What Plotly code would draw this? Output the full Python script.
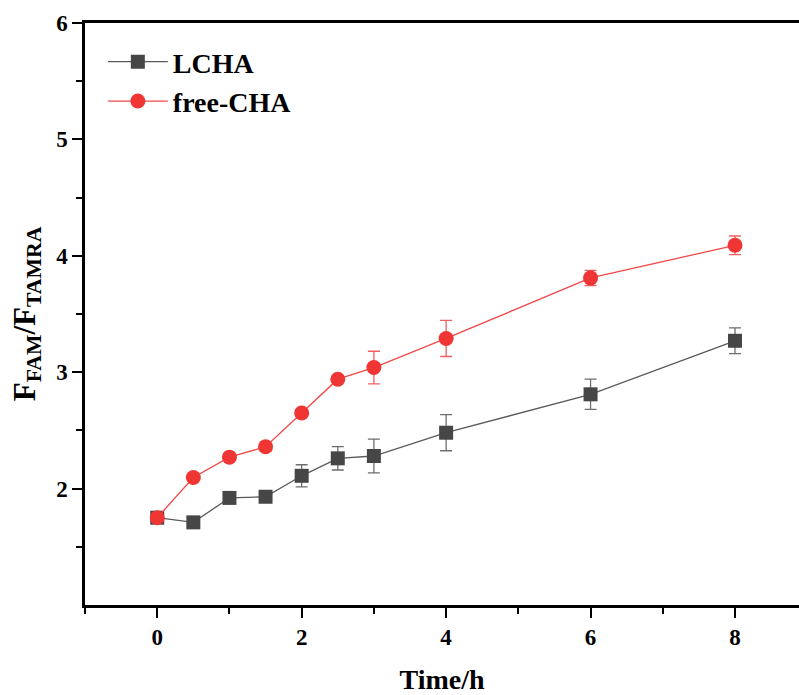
import plotly.graph_objects as go

time_h = [0, 0.5, 1, 1.5, 2, 2.5, 3, 4, 6, 8]
lcha = [1.75, 1.71, 1.92, 1.93, 2.11, 2.26, 2.28, 2.48, 2.81, 3.27]
lcha_err = [0.02, 0.02, 0.03, 0.03, 0.095, 0.10, 0.145, 0.155, 0.13, 0.11]
free_cha = [1.75, 2.095, 2.27, 2.36, 2.65, 2.94, 3.04, 3.29, 3.81, 4.09]
free_err = [0.02, 0.02, 0.03, 0.04, 0.03, 0.03, 0.14, 0.155, 0.065, 0.08]

font = "Liberation Serif, Times New Roman, serif"

fig = go.Figure()
fig.add_trace(go.Scatter(
    x=time_h, y=lcha, name="LCHA", mode="lines+markers",
    line=dict(color="#5a5a5a", width=1.3),
    marker=dict(symbol="square", size=14, color="#464646"),
    error_y=dict(type="data", array=lcha_err, color="#6e6e6e", thickness=1.3, width=6),
))
fig.add_trace(go.Scatter(
    x=time_h, y=free_cha, name="free-CHA", mode="lines+markers",
    line=dict(color="#f04848", width=1.3),
    marker=dict(symbol="circle", size=15, color="#f03535"),
    error_y=dict(type="data", array=free_err, color="#f06060", thickness=1.3, width=6),
))

fig.update_layout(
    width=799, height=695,
    margin=dict(l=85, r=0, t=23, b=90),
    paper_bgcolor="white", plot_bgcolor="white",
    font=dict(family=font, color="black"),
    showlegend=True,
    legend=dict(x=0.025, y=0.976, xanchor="left", yanchor="top",
                font=dict(family=font, size=28, color="black", weight="bold"),
                bgcolor="rgba(0,0,0,0)", itemwidth=60, tracegroupgap=0),
    xaxis=dict(
        range=[-1, 8.886], showgrid=False, zeroline=False,
        showline=True, linecolor="black", linewidth=2.5, mirror=True,
        ticks="outside", ticklen=10, tickwidth=2, tickcolor="black",
        tickvals=[0, 2, 4, 6, 8],
        minor=dict(tickvals=[-1, 1, 3, 5, 7], ticklen=6, tickwidth=2, tickcolor="black", ticks="outside"),
        tickfont=dict(family=font, size=23, color="black", weight="bold"),
        title=dict(text="Time/h", font=dict(family=font, size=28, color="black", weight="bold"), standoff=24),
    ),
    yaxis=dict(
        range=[1, 6], showgrid=False, zeroline=False,
        showline=True, linecolor="black", linewidth=2.5, mirror=False,
        ticks="outside", ticklen=10, tickwidth=2, tickcolor="black",
        tickvals=[2, 3, 4, 5, 6],
        minor=dict(tickvals=[1.5, 2.5, 3.5, 4.5, 5.5], ticklen=6, tickwidth=2, tickcolor="black", ticks="outside"),
        tickfont=dict(family=font, size=23, color="black", weight="bold"),
        title=dict(text="F<sub>FAM</sub>/F<sub>TAMRA</sub>",
                   font=dict(family=font, size=31, color="black", weight="bold"), standoff=12),
    ),
)

fig.write_html("out.html")
